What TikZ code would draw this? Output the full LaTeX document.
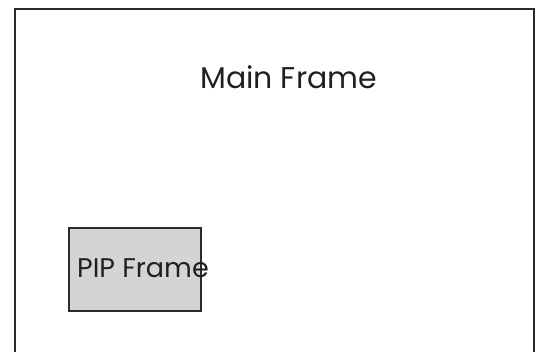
\documentclass[tikz,border=0pt]{standalone}
\usepackage{fontspec}
\setmainfont{Poppins}
\definecolor{linec}{HTML}{2A2A2A}
\definecolor{pipfill}{HTML}{D3D4D6}
\definecolor{textc}{HTML}{231F20}
\begin{document}
\begin{tikzpicture}[x=1pt,y=-1pt,
  framebox/.style={draw=linec,line width=2pt},
  label/.style={inner sep=0pt,text=textc}]
\useasboundingbox (0,0) rectangle (536,352);
\coordinate (bl) at (14.5,356);
\coordinate (tl) at (14.5,9.5);
\coordinate (tr) at (533.5,9.5);
\coordinate (br) at (533.5,356);
\draw[framebox] (bl) -- (tl) -- (tr) -- (br);
\node[label,font=\fontsize{30}{34}\selectfont,anchor=base west] (main) at (200,89) {Main Frame};
\node[framebox,fill=pipfill,minimum width=132pt,minimum height=83pt,inner sep=0pt,anchor=north west] (pip) at (68,227) {};
\node[label,font=\fontsize{27}{31}\selectfont,anchor=base west] (piptext) at (77,278) {PIP Frame};
\end{tikzpicture}
\end{document}
